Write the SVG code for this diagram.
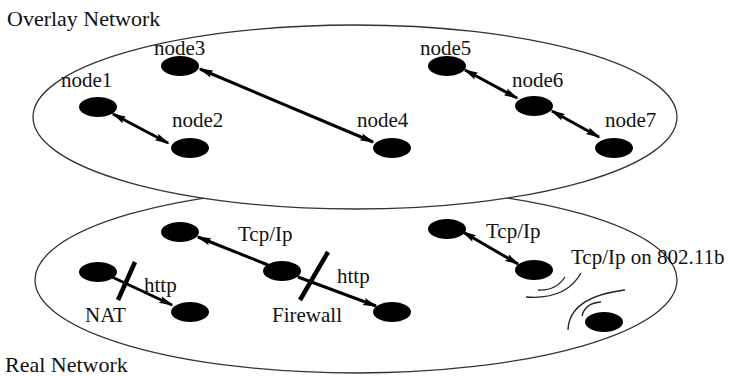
<svg xmlns="http://www.w3.org/2000/svg" width="736" height="376" viewBox="0 0 736 376">
  <style>
    .region { fill: #ffffff; stroke: #333333; stroke-width: 1.3; }
    .node { fill: #000000; }
    text { font-family: 'Liberation Serif', 'DejaVu Serif', 'Times New Roman', serif; fill: #111111; }
    .lbl { font-size: 21px; }
    .title { font-size: 22px; }
    .link { stroke: #000000; stroke-width: 3; fill: none; }
    .bar { stroke: #000000; stroke-width: 4.5; }
    .wave { stroke: #222222; stroke-width: 1.3; fill: none; }
  </style>
  <defs>
    <marker id="head" markerUnits="userSpaceOnUse" viewBox="0 0 15 9" refX="13" refY="4.5" markerWidth="15" markerHeight="9" orient="auto-start-reverse">
      <path d="M0,0.8 L15,4.5 L0,8.2 L2.5,4.5 z" fill="#000000"/>
    </marker>
  </defs>

  <rect width="736" height="376" fill="#ffffff"/>

  <!-- network regions: the real network sits behind the overlay -->
  <g id="real-network">
    <ellipse class="region" cx="356" cy="280" rx="321" ry="93"/>
    <text class="title" x="5" y="372" font-family="Liberation Serif, serif">Real Network</text>
  </g>
  <g id="overlay-network">
    <ellipse class="region" cx="355" cy="117" rx="322" ry="92"/>
    <text class="title" x="7" y="26" font-family="Liberation Serif, serif">Overlay Network</text>
  </g>

  <!-- overlay nodes -->
  <g id="node1"><ellipse class="node" cx="98" cy="107" rx="19" ry="10"/><text class="lbl" x="61" y="87">node1</text></g>
  <g id="node2"><ellipse class="node" cx="190" cy="148" rx="19" ry="10"/><text class="lbl" x="172" y="127">node2</text></g>
  <g id="node3"><ellipse class="node" cx="180" cy="66" rx="19" ry="10"/><text class="lbl" x="154" y="55">node3</text></g>
  <g id="node4"><ellipse class="node" cx="392" cy="148" rx="19" ry="10"/><text class="lbl" x="357" y="127">node4</text></g>
  <g id="node5"><ellipse class="node" cx="447" cy="66" rx="19" ry="10"/><text class="lbl" x="420" y="55">node5</text></g>
  <g id="node6"><ellipse class="node" cx="534" cy="106" rx="19" ry="10"/><text class="lbl" x="512" y="87">node6</text></g>
  <g id="node7"><ellipse class="node" cx="614" cy="148" rx="19" ry="10"/><text class="lbl" x="605" y="127">node7</text></g>

  <!-- real hosts -->
  <g id="host-a"><ellipse class="node" cx="180" cy="232" rx="19" ry="10"/></g>
  <g id="host-b"><ellipse class="node" cx="98" cy="272" rx="19" ry="10"/></g>
  <g id="host-c"><ellipse class="node" cx="190" cy="312" rx="19" ry="10"/></g>
  <g id="host-d"><ellipse class="node" cx="282" cy="271" rx="19" ry="10"/></g>
  <g id="host-e"><ellipse class="node" cx="392" cy="312" rx="19" ry="10"/></g>
  <g id="host-f"><ellipse class="node" cx="447" cy="229" rx="19" ry="10"/></g>
  <g id="host-g"><ellipse class="node" cx="534" cy="270" rx="19" ry="10"/></g>
  <g id="host-h"><ellipse class="node" cx="604" cy="322" rx="19" ry="10"/></g>

  <!-- NAT and firewall barriers -->
  <g id="nat">
    <line class="bar" x1="118" y1="300" x2="135" y2="262"/>
    <text class="lbl" x="85" y="322">NAT</text>
  </g>
  <g id="firewall">
    <line class="bar" x1="300" y1="300" x2="328" y2="252"/>
    <text class="lbl" x="272" y="322">Firewall</text>
  </g>

  <!-- connectors -->
  <g id="connectors">
    <line class="link" x1="113" y1="114" x2="168" y2="143" marker-start="url(#head)" marker-end="url(#head)"/>
    <line class="link" x1="200" y1="69" x2="373" y2="142" marker-start="url(#head)" marker-end="url(#head)"/>
    <line class="link" x1="465" y1="70" x2="517" y2="98" marker-start="url(#head)" marker-end="url(#head)"/>
    <line class="link" x1="552" y1="111" x2="599" y2="137" marker-start="url(#head)" marker-end="url(#head)"/>

    <line class="link" x1="112" y1="277" x2="172" y2="305" marker-end="url(#head)"/>
    <line class="link" x1="268" y1="265" x2="198" y2="237" marker-end="url(#head)"/>
    <line class="link" x1="298" y1="277" x2="376" y2="306" marker-end="url(#head)"/>
    <line class="link" x1="463" y1="232" x2="518" y2="264" marker-start="url(#head)" marker-end="url(#head)"/>

    <text class="lbl" x="238" y="241">Tcp/Ip</text>
    <text class="lbl" x="144" y="292">http</text>
    <text class="lbl" x="337" y="283">http</text>
    <text class="lbl" x="486" y="238">Tcp/Ip</text>
    <text class="lbl" x="571" y="264">Tcp/Ip on 802.11b</text>

    <!-- wireless waves -->
    <path class="wave" d="M538,290 Q556,291 565,277"/>
    <path class="wave" d="M526,297 Q566,300 581,273"/>
    <path class="wave" d="M582,316 Q585,303 601,302"/>
    <path class="wave" d="M568,330 Q569,297 625,290"/>
  </g>
</svg>
